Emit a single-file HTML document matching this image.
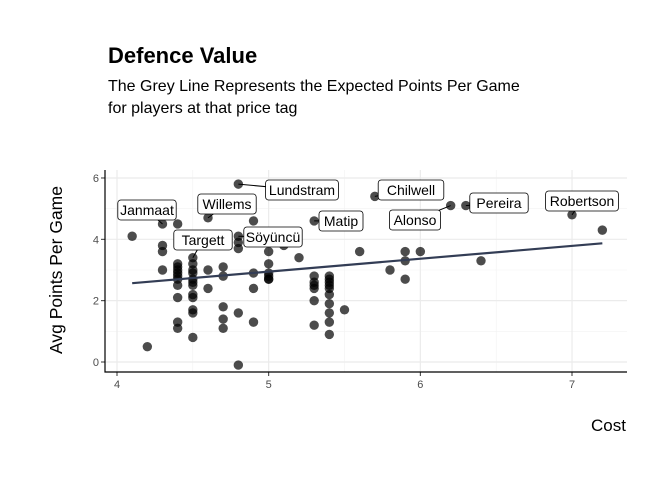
<!DOCTYPE html>
<html><head><meta charset="utf-8"><style>
body{margin:0;background:#fff;font-family:"Liberation Sans",Arial,sans-serif}
</style></head><body>
<svg width="672" height="480" xmlns="http://www.w3.org/2000/svg" font-family="Liberation Sans, Arial, sans-serif">
<text x="108" y="63" font-size="22" font-weight="bold" fill="#000">Defence Value</text>
<text x="108" y="91" font-size="16" fill="#000">The Grey Line Represents the Expected Points Per Game</text>
<text x="108" y="113" font-size="16" fill="#000">for players at that price tag</text>
<g id="grid"></g><g id="axes"></g><g id="marks"></g><g id="labels"></g>
<text x="62" y="270" font-size="17.5" text-anchor="middle" transform="rotate(-90 62 270)">Avg Points Per Game</text>
<text x="626" y="431" font-size="17" text-anchor="end">Cost</text>
</svg>
<script>
const costs=[4.1,4.2,4.3,4.3,4.3,4.3,4.4,4.4,4.4,4.4,4.4,4.4,4.4,4.4,4.4,4.4,4.4,4.5,4.5,4.5,4.5,4.5,4.5,4.5,4.5,4.5,4.5,4.5,4.5,4.6,4.6,4.6,4.7,4.7,4.7,4.7,4.7,4.8,4.8,4.8,4.8,4.8,4.8,4.9,4.9,4.9,4.9,5.0,5.0,5.0,5.0,5.0,5.0,5.1,5.2,5.3,5.3,5.3,5.3,5.3,5.3,5.3,5.4,5.4,5.4,5.4,5.4,5.4,5.4,5.4,5.4,5.4,5.5,5.6,5.7,5.8,5.9,5.9,5.9,6.0,6.2,6.3,6.4,7.0,7.2];
const points=[4.1,0.5,4.5,3.8,3.6,3.0,4.5,3.2,3.1,3.0,2.9,2.8,2.7,2.5,2.1,1.3,1.1,3.4,3.2,3.0,2.9,2.7,2.6,2.5,2.2,2.1,1.7,1.6,0.8,4.7,3.0,2.4,3.1,2.8,1.8,1.4,1.1,5.8,4.1,3.9,3.7,1.6,-0.1,4.6,2.9,2.4,1.3,3.6,3.2,2.9,2.8,2.7,2.7,3.8,3.4,4.6,2.8,2.6,2.5,2.4,2.0,1.2,2.8,2.7,2.6,2.5,2.4,2.2,1.9,1.6,1.3,0.9,1.7,3.6,5.4,3.0,3.6,3.3,2.7,3.6,5.1,5.1,3.3,4.8,4.3];
const trendX=[4.1,7.2];
const trendY=[2.57,3.87];
const xTicks=[4,5,6,7];
const yTicks=[0,2,4,6];
const xMinor=[4.5,5.5,6.5];
const yMinor=[1,3,5];
const labelNames=["Janmaat","Willems","Lundstram","Targett","Söyüncü","Matip","Chilwell","Alonso","Pereira","Robertson"];
const labelCost=[4.3,4.6,4.8,4.5,4.8,5.3,5.7,6.2,6.3,7.0];
const labelPts=[4.5,4.7,5.8,3.4,4.1,4.6,5.4,5.1,5.1,4.8];
const labelCx=[147,227,302,203,273,341,411,415,499,582];
const labelCy=[210,204,190,240,237,221,190,220,203,201];
const X=v=>117+(v-4)*151.67, Y=v=>362-v*30.67;
const NS="http://www.w3.org/2000/svg";
function mk(t,a,p){const e=document.createElementNS(NS,t);for(const k in a)e.setAttribute(k,a[k]);document.getElementById(p).appendChild(e);return e;}
const L=105,R=627,T=170,B=372;
xMinor.forEach(v=>{const e=mk('line',{x1:X(v),x2:X(v),y1:T,y2:B,stroke:'#f2f2f2','stroke-width':0.6},'grid');

});
yMinor.forEach(v=>{const e=mk('line',{x1:L,x2:R,y1:Y(v),y2:Y(v),stroke:'#f2f2f2','stroke-width':0.6},'grid');

});
xTicks.forEach(v=>{const e=mk('line',{x1:X(v),x2:X(v),y1:T,y2:B,stroke:'#ebebeb','stroke-width':1.2},'grid');


const t=mk('line',{x1:X(v),x2:X(v),y1:B,y2:B+4,stroke:'#333'},'axes');


const l=mk('text',{x:X(v),y:B+16,'font-size':11,fill:'#4d4d4d','text-anchor':'middle'},'axes');l.textContent=v;

});
yTicks.forEach(v=>{const e=mk('line',{x1:L,x2:R,y1:Y(v),y2:Y(v),stroke:'#ebebeb','stroke-width':1.2},'grid');


const t=mk('line',{x1:L-4,x2:L,y1:Y(v),y2:Y(v),stroke:'#333'},'axes');


const l=mk('text',{x:L-6,y:Y(v)+4,'font-size':11,fill:'#4d4d4d','text-anchor':'end'},'axes');l.textContent=v;

});
const ax=mk('path',{d:`M${L} ${T}V${B}H${R}`,fill:'none',stroke:'#000','stroke-width':1.2},'axes');


costs.forEach((c,i)=>{const e=mk('circle',{cx:X(c),cy:Y(points[i]),r:4.7,fill:'#000','fill-opacity':0.7},'marks');

});
const tl=mk('line',{x1:X(trendX[0]),y1:Y(trendY[0]),x2:X(trendX[1]),y2:Y(trendY[1]),stroke:'#333d55','stroke-width':2.2},'marks');


labelNames.forEach((n,i)=>{const px=X(labelCost[i]),py=Y(labelPts[i]);const cx=labelCx[i],cy=labelCy[i];
const w=n.length*7.2+8;
const sg=mk('line',{x1:px,y1:py,x2:cx,y2:cy,stroke:'#000','stroke-width':1},'labels');


const r=mk('rect',{x:cx-w/2,y:cy-10,width:w,height:20,rx:3,fill:'#fff',stroke:'#000','stroke-width':0.8},'labels');


const t=mk('text',{x:cx,y:cy+5,'font-size':14,'text-anchor':'middle',fill:'#000'},'labels');t.textContent=n;

});
</script>
</body></html>
